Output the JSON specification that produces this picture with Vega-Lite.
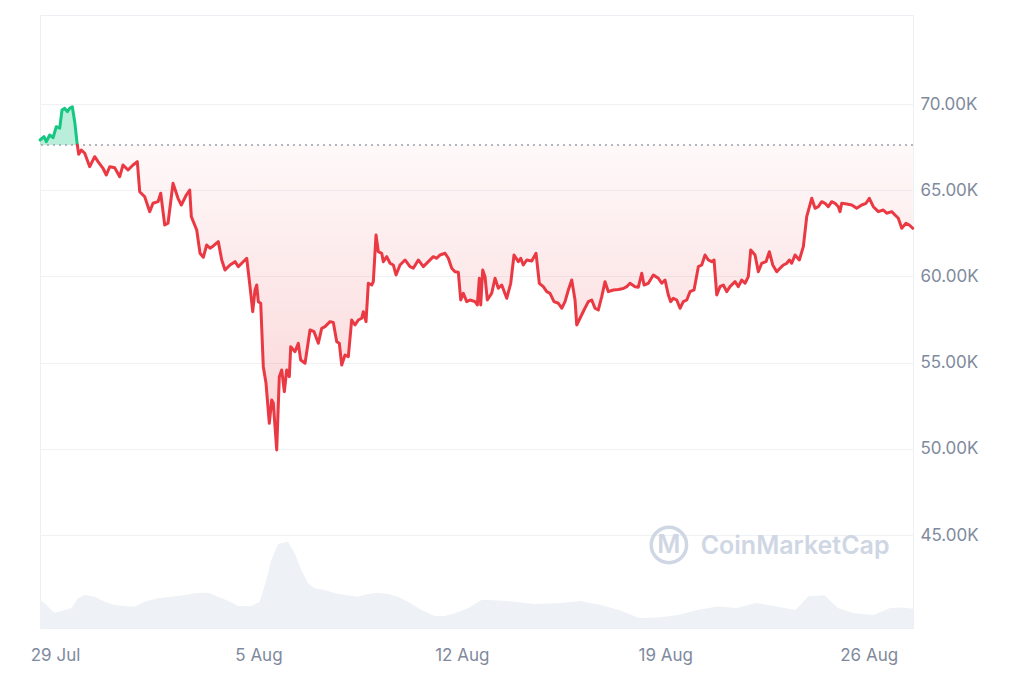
{
"$schema":"https://vega.github.io/schema/vega-lite/v6.json",
"width":873,"height":613,
"autosize":"none",
"padding":{"left":40,"top":15,"right":111,"bottom":55},
"background":"white",
"config":{"view":{"stroke":"#eceff3"},"font":"Inter",
 "axisX":{"labelColor":"#808a9d","labelFontSize":17,"labelFont":"Inter","ticks":false,"domain":false,"grid":false,"labelPadding":19,"title":null},
 "axisY":{"labelColor":"#808a9d","labelFontSize":17,"labelFont":"Inter","ticks":false,"domain":false,"grid":true,"gridColor":"#eff2f5","gridWidth":1,"labelPadding":7,"title":null}},
"datasets":{
"price":[
{"t":"2024-07-28T11:40","p":67913,"s":"u"},
{"t":"2024-07-28T14:55","p":68104,"s":"u"},
{"t":"2024-07-28T16:49","p":67815,"s":"u"},
{"t":"2024-07-28T19:37","p":68203,"s":"u"},
{"t":"2024-07-28T22:21","p":68046,"s":"u"},
{"t":"2024-07-29T01:04","p":68684,"s":"u"},
{"t":"2024-07-29T03:53","p":68600,"s":"u"},
{"t":"2024-07-29T05:47","p":69652,"s":"u"},
{"t":"2024-07-29T08:01","p":69751,"s":"u"},
{"t":"2024-07-29T10:09","p":69554,"s":"u"},
{"t":"2024-07-29T12:08","p":69751,"s":"u"},
{"t":"2024-07-29T14:17","p":69843,"s":"u"},
{"t":"2024-07-29T16:16","p":68974,"s":"u"},
{"t":"2024-07-29T18:25","p":67620,"s":"u"},
{"t":"2024-07-29T18:25","p":67620,"s":"d"},
{"t":"2024-07-29T19:34","p":67084,"s":"d"},
{"t":"2024-07-29T21:43","p":67333,"s":"d"},
{"t":"2024-07-30T00:32","p":67142,"s":"d"},
{"t":"2024-07-30T04:40","p":66365,"s":"d"},
{"t":"2024-07-30T08:47","p":66945,"s":"d"},
{"t":"2024-07-30T11:31","p":66655,"s":"d"},
{"t":"2024-07-30T15:38","p":66273,"s":"d"},
{"t":"2024-07-30T18:22","p":65884,"s":"d"},
{"t":"2024-07-30T21:11","p":66365,"s":"d"},
{"t":"2024-07-31T01:18","p":66300,"s":"d"},
{"t":"2024-07-31T05:26","p":65786,"s":"d"},
{"t":"2024-07-31T08:10","p":66464,"s":"d"},
{"t":"2024-07-31T12:17","p":66174,"s":"d"},
{"t":"2024-07-31T16:25","p":66464,"s":"d"},
{"t":"2024-07-31T19:58","p":66655,"s":"d"},
{"t":"2024-07-31T21:57","p":64916,"s":"d"},
{"t":"2024-08-01T02:05","p":64626,"s":"d"},
{"t":"2024-08-01T06:13","p":63757,"s":"d"},
{"t":"2024-08-01T08:56","p":64244,"s":"d"},
{"t":"2024-08-01T13:04","p":64336,"s":"d"},
{"t":"2024-08-01T15:18","p":64823,"s":"d"},
{"t":"2024-08-01T18:36","p":62986,"s":"d"},
{"t":"2024-08-01T21:20","p":63084,"s":"d"},
{"t":"2024-08-02T01:28","p":65403,"s":"d"},
{"t":"2024-08-02T05:35","p":64533,"s":"d"},
{"t":"2024-08-02T08:19","p":64145,"s":"d"},
{"t":"2024-08-02T12:26","p":64725,"s":"d"},
{"t":"2024-08-02T15:15","p":65015,"s":"d"},
{"t":"2024-08-02T16:34","p":63467,"s":"d"},
{"t":"2024-08-02T21:02","p":62696,"s":"d"},
{"t":"2024-08-02T23:46","p":61345,"s":"d"},
{"t":"2024-08-03T02:29","p":61113,"s":"d"},
{"t":"2024-08-03T05:17","p":61826,"s":"d"},
{"t":"2024-08-03T08:01","p":61635,"s":"d"},
{"t":"2024-08-03T10:44","p":61768,"s":"d"},
{"t":"2024-08-03T14:52","p":62018,"s":"d"},
{"t":"2024-08-03T17:41","p":60957,"s":"d"},
{"t":"2024-08-03T20:24","p":60377,"s":"d"},
{"t":"2024-08-04T00:32","p":60667,"s":"d"},
{"t":"2024-08-04T04:40","p":60858,"s":"d"},
{"t":"2024-08-04T07:23","p":60568,"s":"d"},
{"t":"2024-08-04T10:12","p":60765,"s":"d"},
{"t":"2024-08-04T14:20","p":61055,"s":"d"},
{"t":"2024-08-04T17:03","p":59409,"s":"d"},
{"t":"2024-08-04T19:17","p":57960,"s":"d"},
{"t":"2024-08-04T21:11","p":59217,"s":"d"},
{"t":"2024-08-04T22:35","p":59507,"s":"d"},
{"t":"2024-08-04T23:54","p":58539,"s":"d"},
{"t":"2024-08-05T01:53","p":58447,"s":"d"},
{"t":"2024-08-05T04:02","p":54771,"s":"d"},
{"t":"2024-08-05T06:16","p":53809,"s":"d"},
{"t":"2024-08-05T08:59","p":51490,"s":"d"},
{"t":"2024-08-05T10:58","p":52841,"s":"d"},
{"t":"2024-08-05T12:17","p":52649,"s":"d"},
{"t":"2024-08-05T15:06","p":49942,"s":"d"},
{"t":"2024-08-05T17:15","p":54191,"s":"d"},
{"t":"2024-08-05T19:14","p":54580,"s":"d"},
{"t":"2024-08-05T21:23","p":53322,"s":"d"},
{"t":"2024-08-05T23:22","p":54580,"s":"d"},
{"t":"2024-08-06T01:31","p":54191,"s":"d"},
{"t":"2024-08-06T02:40","p":55931,"s":"d"},
{"t":"2024-08-06T06:13","p":55641,"s":"d"},
{"t":"2024-08-06T08:56","p":56128,"s":"d"},
{"t":"2024-08-06T10:55","p":55160,"s":"d"},
{"t":"2024-08-06T14:29","p":54968,"s":"d"},
{"t":"2024-08-06T18:36","p":56899,"s":"d"},
{"t":"2024-08-06T21:55","p":56800,"s":"d"},
{"t":"2024-08-07T01:28","p":56128,"s":"d"},
{"t":"2024-08-07T04:16","p":56997,"s":"d"},
{"t":"2024-08-07T06:59","p":57090,"s":"d"},
{"t":"2024-08-07T11:07","p":57380,"s":"d"},
{"t":"2024-08-07T13:51","p":57330,"s":"d"},
{"t":"2024-08-07T16:40","p":56221,"s":"d"},
{"t":"2024-08-07T18:48","p":56128,"s":"d"},
{"t":"2024-08-07T20:47","p":54867,"s":"d"},
{"t":"2024-08-07T23:31","p":55449,"s":"d"},
{"t":"2024-08-08T02:14","p":55351,"s":"d"},
{"t":"2024-08-08T05:02","p":57478,"s":"d"},
{"t":"2024-08-08T07:46","p":57188,"s":"d"},
{"t":"2024-08-08T10:30","p":57478,"s":"d"},
{"t":"2024-08-08T13:18","p":57577,"s":"d"},
{"t":"2024-08-08T14:38","p":57960,"s":"d"},
{"t":"2024-08-08T16:52","p":57380,"s":"d"},
{"t":"2024-08-08T18:46","p":59606,"s":"d"},
{"t":"2024-08-08T21:34","p":59507,"s":"d"},
{"t":"2024-08-08T22:53","p":59699,"s":"d"},
{"t":"2024-08-09T01:07","p":62406,"s":"d"},
{"t":"2024-08-09T03:01","p":61438,"s":"d"},
{"t":"2024-08-09T05:50","p":61345,"s":"d"},
{"t":"2024-08-09T07:09","p":60858,"s":"d"},
{"t":"2024-08-09T09:58","p":61148,"s":"d"},
{"t":"2024-08-09T12:41","p":60765,"s":"d"},
{"t":"2024-08-09T15:24","p":60667,"s":"d"},
{"t":"2024-08-09T17:38","p":60087,"s":"d"},
{"t":"2024-08-09T20:56","p":60667,"s":"d"},
{"t":"2024-08-10T01:04","p":60957,"s":"d"},
{"t":"2024-08-10T05:11","p":60568,"s":"d"},
{"t":"2024-08-10T07:55","p":60476,"s":"d"},
{"t":"2024-08-10T12:03","p":60957,"s":"d"},
{"t":"2024-08-10T16:11","p":60568,"s":"d"},
{"t":"2024-08-10T20:19","p":60858,"s":"d"},
{"t":"2024-08-11T00:26","p":61148,"s":"d"},
{"t":"2024-08-11T03:15","p":61055,"s":"d"},
{"t":"2024-08-11T05:58","p":61247,"s":"d"},
{"t":"2024-08-11T10:06","p":61345,"s":"d"},
{"t":"2024-08-11T12:50","p":61055,"s":"d"},
{"t":"2024-08-11T15:38","p":60476,"s":"d"},
{"t":"2024-08-11T18:22","p":60278,"s":"d"},
{"t":"2024-08-11T21:05","p":60250,"s":"d"},
{"t":"2024-08-11T23:04","p":58638,"s":"d"},
{"t":"2024-08-12T01:13","p":59026,"s":"d"},
{"t":"2024-08-12T04:02","p":58539,"s":"d"},
{"t":"2024-08-12T06:45","p":58638,"s":"d"},
{"t":"2024-08-12T10:53","p":58539,"s":"d"},
{"t":"2024-08-12T12:47","p":58348,"s":"d"},
{"t":"2024-08-12T14:26","p":59896,"s":"d"},
{"t":"2024-08-12T15:35","p":58348,"s":"d"},
{"t":"2024-08-12T17:14","p":60377,"s":"d"},
{"t":"2024-08-12T19:08","p":59988,"s":"d"},
{"t":"2024-08-12T21:02","p":58638,"s":"d"},
{"t":"2024-08-13T00:40","p":59026,"s":"d"},
{"t":"2024-08-13T03:24","p":59896,"s":"d"},
{"t":"2024-08-13T06:07","p":59316,"s":"d"},
{"t":"2024-08-13T08:56","p":59507,"s":"d"},
{"t":"2024-08-13T13:04","p":58736,"s":"d"},
{"t":"2024-08-13T16:22","p":59606,"s":"d"},
{"t":"2024-08-13T19:05","p":61247,"s":"d"},
{"t":"2024-08-13T22:38","p":60858,"s":"d"},
{"t":"2024-08-14T00:37","p":61055,"s":"d"},
{"t":"2024-08-14T02:46","p":60667,"s":"d"},
{"t":"2024-08-14T05:35","p":60957,"s":"d"},
{"t":"2024-08-14T09:43","p":60900,"s":"d"},
{"t":"2024-08-14T13:16","p":61345,"s":"d"},
{"t":"2024-08-14T15:59","p":59606,"s":"d"},
{"t":"2024-08-14T19:17","p":59409,"s":"d"},
{"t":"2024-08-14T22:06","p":59119,"s":"d"},
{"t":"2024-08-15T00:49","p":59026,"s":"d"},
{"t":"2024-08-15T04:07","p":58539,"s":"d"},
{"t":"2024-08-15T07:41","p":58447,"s":"d"},
{"t":"2024-08-15T10:29","p":58157,"s":"d"},
{"t":"2024-08-15T13:13","p":58539,"s":"d"},
{"t":"2024-08-15T15:56","p":59217,"s":"d"},
{"t":"2024-08-15T18:45","p":59797,"s":"d"},
{"t":"2024-08-15T21:28","p":58638,"s":"d"},
{"t":"2024-08-15T22:53","p":57188,"s":"d"},
{"t":"2024-08-16T01:36","p":57577,"s":"d"},
{"t":"2024-08-16T04:54","p":58058,"s":"d"},
{"t":"2024-08-16T08:28","p":58539,"s":"d"},
{"t":"2024-08-16T11:16","p":58638,"s":"d"},
{"t":"2024-08-16T13:59","p":58157,"s":"d"},
{"t":"2024-08-16T16:43","p":58058,"s":"d"},
{"t":"2024-08-16T19:32","p":58829,"s":"d"},
{"t":"2024-08-16T22:15","p":59699,"s":"d"},
{"t":"2024-08-17T00:59","p":59119,"s":"d"},
{"t":"2024-08-17T05:07","p":59217,"s":"d"},
{"t":"2024-08-17T09:14","p":59250,"s":"d"},
{"t":"2024-08-17T13:22","p":59300,"s":"d"},
{"t":"2024-08-17T16:11","p":59409,"s":"d"},
{"t":"2024-08-17T18:54","p":59606,"s":"d"},
{"t":"2024-08-17T23:02","p":59409,"s":"d"},
{"t":"2024-08-18T01:46","p":59380,"s":"d"},
{"t":"2024-08-18T04:34","p":60186,"s":"d"},
{"t":"2024-08-18T06:28","p":59507,"s":"d"},
{"t":"2024-08-18T10:01","p":59606,"s":"d"},
{"t":"2024-08-18T14:09","p":60087,"s":"d"},
{"t":"2024-08-18T18:17","p":59896,"s":"d"},
{"t":"2024-08-18T21:05","p":59606,"s":"d"},
{"t":"2024-08-18T23:49","p":59797,"s":"d"},
{"t":"2024-08-19T02:32","p":58928,"s":"d"},
{"t":"2024-08-19T04:31","p":58539,"s":"d"},
{"t":"2024-08-19T06:40","p":58736,"s":"d"},
{"t":"2024-08-19T09:29","p":58638,"s":"d"},
{"t":"2024-08-19T12:11","p":58157,"s":"d"},
{"t":"2024-08-19T14:55","p":58539,"s":"d"},
{"t":"2024-08-19T17:44","p":58638,"s":"d"},
{"t":"2024-08-19T20:27","p":59119,"s":"d"},
{"t":"2024-08-19T23:46","p":59217,"s":"d"},
{"t":"2024-08-20T03:19","p":60568,"s":"d"},
{"t":"2024-08-20T06:07","p":60667,"s":"d"},
{"t":"2024-08-20T08:50","p":61247,"s":"d"},
{"t":"2024-08-20T11:34","p":60957,"s":"d"},
{"t":"2024-08-20T14:23","p":60858,"s":"d"},
{"t":"2024-08-20T16:17","p":60957,"s":"d"},
{"t":"2024-08-20T18:31","p":58928,"s":"d"},
{"t":"2024-08-20T21:13","p":59409,"s":"d"},
{"t":"2024-08-20T23:57","p":59507,"s":"d"},
{"t":"2024-08-21T02:46","p":59119,"s":"d"},
{"t":"2024-08-21T05:29","p":59409,"s":"d"},
{"t":"2024-08-21T09:37","p":59699,"s":"d"},
{"t":"2024-08-21T12:20","p":59409,"s":"d"},
{"t":"2024-08-21T15:09","p":59797,"s":"d"},
{"t":"2024-08-21T17:52","p":59606,"s":"d"},
{"t":"2024-08-21T20:36","p":59988,"s":"d"},
{"t":"2024-08-21T22:35","p":61536,"s":"d"},
{"t":"2024-08-22T02:08","p":61247,"s":"d"},
{"t":"2024-08-22T04:52","p":60278,"s":"d"},
{"t":"2024-08-22T07:40","p":60765,"s":"d"},
{"t":"2024-08-22T11:13","p":60858,"s":"d"},
{"t":"2024-08-22T13:57","p":61438,"s":"d"},
{"t":"2024-08-22T16:46","p":60667,"s":"d"},
{"t":"2024-08-22T20:04","p":60278,"s":"d"},
{"t":"2024-08-22T22:47","p":60476,"s":"d"},
{"t":"2024-08-23T01:31","p":60667,"s":"d"},
{"t":"2024-08-23T04:19","p":60765,"s":"d"},
{"t":"2024-08-23T06:28","p":60957,"s":"d"},
{"t":"2024-08-23T08:27","p":60765,"s":"d"},
{"t":"2024-08-23T11:10","p":61247,"s":"d"},
{"t":"2024-08-23T14:43","p":60957,"s":"d"},
{"t":"2024-08-23T18:02","p":61728,"s":"d"},
{"t":"2024-08-23T20:50","p":63467,"s":"d"},
{"t":"2024-08-24T00:58","p":64533,"s":"d"},
{"t":"2024-08-24T03:41","p":63954,"s":"d"},
{"t":"2024-08-24T06:25","p":64046,"s":"d"},
{"t":"2024-08-24T09:13","p":64336,"s":"d"},
{"t":"2024-08-24T11:57","p":64244,"s":"d"},
{"t":"2024-08-24T14:40","p":64046,"s":"d"},
{"t":"2024-08-24T17:29","p":64336,"s":"d"},
{"t":"2024-08-24T20:12","p":64244,"s":"d"},
{"t":"2024-08-24T22:56","p":64046,"s":"d"},
{"t":"2024-08-25T00:20","p":63757,"s":"d"},
{"t":"2024-08-25T01:44","p":64244,"s":"d"},
{"t":"2024-08-25T05:52","p":64200,"s":"d"},
{"t":"2024-08-25T10:00","p":64145,"s":"d"},
{"t":"2024-08-25T14:07","p":63954,"s":"d"},
{"t":"2024-08-25T18:15","p":64145,"s":"d"},
{"t":"2024-08-25T21:48","p":64244,"s":"d"},
{"t":"2024-08-26T00:32","p":64533,"s":"d"},
{"t":"2024-08-26T03:50","p":64046,"s":"d"},
{"t":"2024-08-26T07:58","p":63757,"s":"d"},
{"t":"2024-08-26T12:05","p":63855,"s":"d"},
{"t":"2024-08-26T14:54","p":63664,"s":"d"},
{"t":"2024-08-26T19:02","p":63757,"s":"d"},
{"t":"2024-08-26T21:45","p":63565,"s":"d"},
{"t":"2024-08-27T00:29","p":63374,"s":"d"},
{"t":"2024-08-27T03:17","p":62794,"s":"d"},
{"t":"2024-08-27T06:50","p":63084,"s":"d"},
{"t":"2024-08-27T09:34","p":62986,"s":"d"},
{"t":"2024-08-27T12:23","p":62794,"s":"d"}
],
"vol":[
{"t":"2024-07-28T11:37","v":35},
{"t":"2024-07-28T15:30","v":30.9},
{"t":"2024-07-28T20:56","v":22.5},
{"t":"2024-07-28T23:45","v":19.1},
{"t":"2024-07-29T08:01","v":22.5},
{"t":"2024-07-29T13:28","v":24.6},
{"t":"2024-07-29T19:00","v":37.1},
{"t":"2024-07-30T00:32","v":41.2},
{"t":"2024-07-30T08:47","v":39.1},
{"t":"2024-07-30T17:03","v":32.9},
{"t":"2024-07-31T01:18","v":28.7},
{"t":"2024-07-31T09:34","v":27.5},
{"t":"2024-07-31T17:49","v":26.6},
{"t":"2024-08-01T02:05","v":32.9},
{"t":"2024-08-01T13:04","v":37.1},
{"t":"2024-08-02T00:03","v":39.1},
{"t":"2024-08-02T11:07","v":41.2},
{"t":"2024-08-02T19:23","v":43.4},
{"t":"2024-08-03T06:22","v":44.1},
{"t":"2024-08-03T14:37","v":39.1},
{"t":"2024-08-03T22:53","v":34.1},
{"t":"2024-08-04T07:08","v":27.5},
{"t":"2024-08-04T18:07","v":27.5},
{"t":"2024-08-05T01:04","v":32.9},
{"t":"2024-08-05T06:31","v":60},
{"t":"2024-08-05T10:38","v":85},
{"t":"2024-08-05T16:11","v":105},
{"t":"2024-08-06T00:26","v":107.9},
{"t":"2024-08-06T05:58","v":93.4},
{"t":"2024-08-06T11:25","v":72.5},
{"t":"2024-08-06T16:57","v":55.9},
{"t":"2024-08-06T22:29","v":49.6},
{"t":"2024-08-07T06:44","v":47.5},
{"t":"2024-08-07T15:00","v":43.4},
{"t":"2024-08-07T23:16","v":41.2},
{"t":"2024-08-08T10:15","v":39.1},
{"t":"2024-08-08T18:31","v":42.5},
{"t":"2024-08-09T02:46","v":44.1},
{"t":"2024-08-09T11:01","v":42.5},
{"t":"2024-08-09T19:17","v":39.1},
{"t":"2024-08-10T03:32","v":32.9},
{"t":"2024-08-10T14:32","v":22.5},
{"t":"2024-08-11T01:35","v":15},
{"t":"2024-08-11T09:51","v":15},
{"t":"2024-08-11T18:07","v":18.4},
{"t":"2024-08-12T05:06","v":24.6},
{"t":"2024-08-12T16:40","v":35.4},
{"t":"2024-08-13T14:08","v":33.7},
{"t":"2024-08-14T12:01","v":30},
{"t":"2024-08-15T09:29","v":31.2},
{"t":"2024-08-16T01:36","v":33.7},
{"t":"2024-08-16T17:52","v":29.1},
{"t":"2024-08-17T09:49","v":22.5},
{"t":"2024-08-18T02:20","v":12.5},
{"t":"2024-08-18T18:01","v":13},
{"t":"2024-08-19T10:32","v":16.2},
{"t":"2024-08-20T02:38","v":22.5},
{"t":"2024-08-20T18:45","v":27},
{"t":"2024-08-21T11:01","v":25},
{"t":"2024-08-22T02:58","v":31.2},
{"t":"2024-08-22T19:29","v":27},
{"t":"2024-08-23T11:30","v":22.5},
{"t":"2024-08-23T22:14","v":39.6},
{"t":"2024-08-24T11:42","v":40.9},
{"t":"2024-08-24T22:31","v":25},
{"t":"2024-08-25T11:54","v":18.5},
{"t":"2024-08-26T04:10","v":16.2},
{"t":"2024-08-26T17:38","v":25},
{"t":"2024-08-27T04:22","v":25.6},
{"t":"2024-08-27T12:36","v":24}
]
},
"layer":[
{"layer":[
 {"data":{"name":"price"},
  "transform":[{"filter":"datum.s=='d'"}],
  "mark":{"type":"area","color":{"gradient":"linear","x1":0,"y1":0,"x2":0,"y2":1,"stops":[{"offset":0,"color":"rgba(234,57,67,0.03)"},{"offset":1,"color":"rgba(234,57,67,0.22)"}]}},
  "encoding":{
   "x":{"field":"t","type":"temporal","scale":{"domain":[{"year":2024,"month":7,"date":28,"hours":11,"minutes":36},{"year":2024,"month":8,"date":27,"hours":12,"minutes":36}]},
    "axis":{"values":[{"year":2024,"month":7,"date":29},{"year":2024,"month":8,"date":5},{"year":2024,"month":8,"date":12},{"year":2024,"month":8,"date":19},{"year":2024,"month":8,"date":26}],"format":"%-d %b"}},
   "y":{"field":"p","type":"quantitative","scale":{"domain":[39620,75160],"nice":false,"zero":false},
    "axis":{"orient":"right","values":[45000,50000,55000,60000,65000,70000],"labelExpr":"format(datum.value/1000,'.2f')+'K'"}},
   "y2":{"datum":67620}
  }},
 {"data":{"name":"price"},
  "transform":[{"filter":"datum.s=='u'"}],
  "mark":{"type":"area","color":"rgba(22,199,132,0.3)"},
  "encoding":{
   "x":{"field":"t","type":"temporal","scale":{"domain":[{"year":2024,"month":7,"date":28,"hours":11,"minutes":36},{"year":2024,"month":8,"date":27,"hours":12,"minutes":36}]},
    "axis":{"values":[{"year":2024,"month":7,"date":29},{"year":2024,"month":8,"date":5},{"year":2024,"month":8,"date":12},{"year":2024,"month":8,"date":19},{"year":2024,"month":8,"date":26}],"format":"%-d %b"}},
   "y":{"field":"p","type":"quantitative","scale":{"domain":[39620,75160],"nice":false,"zero":false},
    "axis":{"orient":"right","values":[45000,50000,55000,60000,65000,70000],"labelExpr":"format(datum.value/1000,'.2f')+'K'"}},
   "y2":{"datum":67620}
  }},
 {"data":{"values":[{"p":67620}]},
  "mark":{"type":"rule","color":"#9aa1ad","strokeWidth":1.5,"strokeDash":[2,4]},
  "encoding":{
   "y":{"field":"p","type":"quantitative","scale":{"domain":[39620,75160],"nice":false,"zero":false},
    "axis":{"orient":"right","values":[45000,50000,55000,60000,65000,70000],"labelExpr":"format(datum.value/1000,'.2f')+'K'"}}
  }},
 {"data":{"name":"price"},
  "mark":{"type":"line","strokeWidth":3,"strokeJoin":"round","strokeCap":"round"},
  "encoding":{
   "x":{"field":"t","type":"temporal","scale":{"domain":[{"year":2024,"month":7,"date":28,"hours":11,"minutes":36},{"year":2024,"month":8,"date":27,"hours":12,"minutes":36}]},
    "axis":{"values":[{"year":2024,"month":7,"date":29},{"year":2024,"month":8,"date":5},{"year":2024,"month":8,"date":12},{"year":2024,"month":8,"date":19},{"year":2024,"month":8,"date":26}],"format":"%-d %b"}},
   "y":{"field":"p","type":"quantitative","scale":{"domain":[39620,75160],"nice":false,"zero":false},
    "axis":{"orient":"right","values":[45000,50000,55000,60000,65000,70000],"labelExpr":"format(datum.value/1000,'.2f')+'K'"}},
   "color":{"field":"s","type":"nominal","scale":{"domain":["u","d"],"range":["#16c784","#ea3943"]},"legend":null}
  }},
 {"data":{"values":[{"t":"2024-08-19T03:00","p":44430}]},
  "mark":{"type":"point","shape":"circle","filled":false,"size":1250,"strokeWidth":3.5,"color":"#cfd6e4","opacity":1},
  "encoding":{
   "x":{"field":"t","type":"temporal","scale":{"domain":[{"year":2024,"month":7,"date":28,"hours":11,"minutes":36},{"year":2024,"month":8,"date":27,"hours":12,"minutes":36}]},
    "axis":{"values":[{"year":2024,"month":7,"date":29},{"year":2024,"month":8,"date":5},{"year":2024,"month":8,"date":12},{"year":2024,"month":8,"date":19},{"year":2024,"month":8,"date":26}],"format":"%-d %b"}},
   "y":{"field":"p","type":"quantitative","scale":{"domain":[39620,75160],"nice":false,"zero":false},
    "axis":{"orient":"right","values":[45000,50000,55000,60000,65000,70000],"labelExpr":"format(datum.value/1000,'.2f')+'K'"}}
  }},
 {"data":{"values":[{"t":"2024-08-19T03:00","p":44430,"label":"M"},{"t":"2024-08-23T11:15","p":44380,"label":"CoinMarketCap"}]},
  "mark":{"type":"text","color":"#cfd6e4","fontSize":25,"fontWeight":600,"font":"Inter","align":"center","baseline":"middle"},
  "encoding":{
   "x":{"field":"t","type":"temporal","scale":{"domain":[{"year":2024,"month":7,"date":28,"hours":11,"minutes":36},{"year":2024,"month":8,"date":27,"hours":12,"minutes":36}]},
    "axis":{"values":[{"year":2024,"month":7,"date":29},{"year":2024,"month":8,"date":5},{"year":2024,"month":8,"date":12},{"year":2024,"month":8,"date":19},{"year":2024,"month":8,"date":26}],"format":"%-d %b"}},
   "y":{"field":"p","type":"quantitative","scale":{"domain":[39620,75160],"nice":false,"zero":false},
    "axis":{"orient":"right","values":[45000,50000,55000,60000,65000,70000],"labelExpr":"format(datum.value/1000,'.2f')+'K'"}},
   "text":{"field":"label"}
  }}
]},
{"data":{"name":"vol"},
 "mark":{"type":"area","color":"#eef1f5"},
 "encoding":{
  "x":{"field":"t","type":"temporal","scale":{"domain":[{"year":2024,"month":7,"date":28,"hours":11,"minutes":36},{"year":2024,"month":8,"date":27,"hours":12,"minutes":36}]},
    "axis":{"values":[{"year":2024,"month":7,"date":29},{"year":2024,"month":8,"date":5},{"year":2024,"month":8,"date":12},{"year":2024,"month":8,"date":19},{"year":2024,"month":8,"date":26}],"format":"%-d %b"}},
  "y":{"field":"v","type":"quantitative","scale":{"domain":[0,766],"nice":false,"zero":true},"axis":null}
 }}
],
"resolve":{"scale":{"y":"independent"}}
}
